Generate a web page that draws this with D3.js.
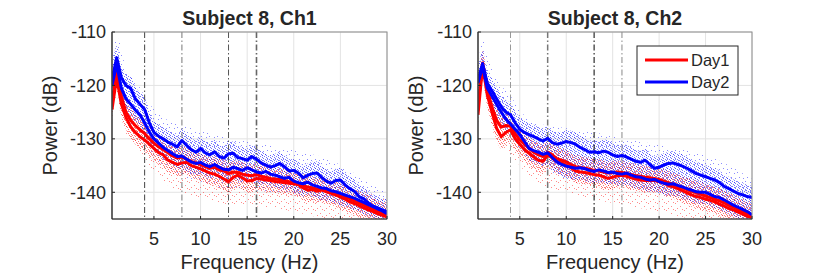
<!DOCTYPE html>
<html>
<head>
<meta charset="utf-8">
<script src="https://cdn.jsdelivr.net/npm/d3@7"></script>
<style>
  body { margin: 0; background: #fff; }
  text { font-family: "Liberation Sans", Arial, sans-serif; fill: #262626; }
</style>
</head>
<body>
<svg id="chart" width="830" height="277"></svg>
<script>
// frequency grid of the thick traces (Hz)
const freqs = d3.range(0.5, 30.001, 0.5);

// Ch1 traces (dB), one value per entry of freqs
const ch1Day1a = [-124.5,-118.5,-123.5,-126,-127.7,-128.8,-129.6,-130.2,-131,-131.8,-132.6,-133,-134,-134.4,-134.8,-134.5,-134.4,-135,-135.3,-135.6,
  -136,-136.4,-136.6,-137,-137.5,-138,-137.2,-136.8,-137.3,-137.9,-137.8,-137.4,-137.5,-137.7,-137.8,-138,-138.1,-138.2,-138.3,-138.4,
  -138.6,-139.2,-139.6,-139.5,-139.8,-139.6,-139.9,-140.2,-140.5,-140.9,-141.3,-141.8,-142.1,-142.5,-142.9,-143.3,-143.6,-144,-144.3,-144.6];
const ch1Day1b = [-123,-117.5,-122,-125,-126.5,-127.5,-128.3,-129,-130,-130.8,-131.5,-132,-132.6,-133.2,-133.6,-133.4,-133.8,-134.2,-134.5,-134.8,
  -135.2,-135.5,-135.3,-135.8,-136,-136.5,-136.2,-136.3,-136.6,-136.8,-136.9,-136.7,-137,-137.2,-137.4,-137.5,-137.6,-137.8,-138,-138.2,
  -138.5,-138.8,-139,-139.2,-139.4,-139.5,-139.7,-140,-140.2,-140.5,-140.9,-141.2,-141.6,-142,-142.4,-142.8,-143.2,-143.6,-144,-144.3];
const ch1Day2a = [-119,-114.8,-118.5,-120,-120.5,-122.5,-123.5,-124.5,-127,-128.8,-129.5,-130,-130.6,-131,-131.5,-130.3,-131.2,-132,-132.5,-131.8,
  -132.6,-133,-132.4,-133.3,-133.6,-132.8,-132.7,-133.5,-133.7,-134,-133.3,-133.8,-134.5,-134.9,-135.3,-135,-134.6,-135.2,-136,-135.9,
  -136.4,-137.3,-136.8,-136.5,-136.4,-137.2,-137.9,-138.3,-137.8,-137.7,-138.6,-139.3,-139.8,-140.8,-141.2,-142,-142.6,-142.9,-143.3,-143.6];
const ch1Day2b = [-120,-116,-120.5,-122.5,-123.5,-124.6,-125.5,-127,-128.7,-130,-130.8,-131.6,-132.2,-132.8,-133.3,-133.2,-133.8,-134.3,-134.6,-134.4,
  -134.9,-135.2,-134.8,-135.3,-135.7,-135.8,-135.3,-135.6,-135.9,-135.4,-135.8,-136.2,-136.4,-136.1,-136.6,-136.8,-137.1,-137.4,-137.2,-137.9,
  -138.2,-138.4,-138.1,-138.6,-138.9,-139.2,-139.3,-139.7,-139.9,-140.2,-140.5,-140.8,-141.1,-141.5,-141.9,-142.3,-142.7,-143.1,-143.5,-144];

// Ch2 traces (dB)
const ch2Day1a = [-125.5,-116.3,-121.8,-125,-128,-129.6,-128.8,-128.3,-130,-131,-132,-132.7,-133.4,-134,-134.2,-133,-133.6,-134.3,-134.5,-134.9,
  -135.4,-136,-136.2,-136.3,-136.5,-136.7,-136.8,-137.1,-137.4,-137.2,-136.9,-136.8,-137,-137.3,-137.5,-137.7,-137.8,-137.8,-137.8,-138,
  -138.3,-138.7,-139,-139.3,-139.7,-140.1,-140.5,-140.8,-141,-141.3,-141.5,-141.8,-142.2,-142.6,-143,-143.3,-143.7,-144.1,-144.5,-144.8];
const ch2Day1b = [-124,-115.8,-120.8,-124,-126.5,-127.8,-127.5,-127.6,-129,-130.2,-131,-131.8,-132.5,-133,-133.3,-132.5,-133,-133.7,-134,-134.3,
  -134.8,-135.2,-135.3,-135.5,-135.7,-135.9,-136,-136.2,-136.4,-136.3,-136.2,-136.3,-136.5,-136.7,-136.9,-137,-137.2,-137.3,-137.4,-137.6,
  -137.9,-138.2,-138.5,-138.8,-139.1,-139.5,-139.8,-140.1,-140.4,-140.7,-141,-141.3,-141.6,-142,-142.4,-142.8,-143.2,-143.6,-144,-144.4];
const ch2Day2a = [-119,-115.9,-119.6,-121,-122.5,-124,-125,-125.5,-127,-128.2,-128.8,-129.2,-129.6,-130,-130.4,-129.9,-130.7,-131,-130.8,-130.5,
  -130.7,-131,-131.6,-132,-132.5,-132.4,-132.6,-132.3,-132.5,-133,-133.3,-133.1,-133.4,-133.8,-134.2,-134.4,-134,-134.8,-135.5,-135.3,
  -134.9,-134.6,-134.5,-134.8,-135.1,-135.5,-136,-136.5,-136.8,-137.1,-137.4,-137.7,-138.2,-138.9,-139.3,-139.8,-140.2,-140.5,-140.8,-141];
const ch2Day2b = [-119.5,-116.5,-120.5,-122,-123.5,-125,-126.3,-127.2,-128.2,-129.2,-130.5,-131.8,-132.2,-132.5,-132.9,-132.6,-133.5,-134.3,-134.8,-135.1,
  -135.3,-135.5,-135.4,-135.6,-135.9,-136.1,-135.8,-136,-136.3,-136.2,-136.5,-136.6,-136.4,-136.8,-137.1,-137.2,-137.5,-137.7,-137.6,-138,
  -138.3,-138.5,-138.4,-138.7,-139,-139.3,-139.6,-139.9,-140,-140,-140.4,-140.8,-141,-141.4,-141.9,-142.4,-142.8,-143.2,-143.6,-144.2];

// spread of the single-epoch spectra (dB): upper / lower edge of the point clouds
const envFreqs = [0.5, 1, 1.5, 2, 3, 4, 5, 6, 8, 10, 12, 15, 18, 21, 24, 27, 30];
const ch1Day1Hi = [-121,-116,-120,-122,-125,-128,-130,-131,-132,-133,-134,-135,-135.5,-136.5,-137.5,-139.5,-141.5];
const ch1Day1Lo = [-127,-122,-126,-129,-131,-134,-136,-138,-140,-141,-142,-142.5,-143,-144,-145,-145,-145];
const ch1Day2Hi = [-116,-111,-113,-117,-119,-122,-124.5,-126,-127.5,-128.5,-129.5,-130.5,-131.5,-132.5,-134,-137,-140];
const ch1Day2Lo = [-122,-119,-123,-126,-128,-131,-133,-135,-137,-138,-139,-139.5,-140,-141,-142,-143.5,-145];
const ch2Day1Hi = [-123,-115.5,-118,-121,-124.5,-126.5,-128.5,-130,-131,-132.5,-133.5,-134.5,-135.5,-136.5,-137.5,-139.5,-141.5];
const ch2Day1Lo = [-128,-120,-124,-128,-131,-133,-135,-137,-139,-140,-141,-142,-143,-144,-145,-145,-145];
const ch2Day2Hi = [-117,-111.5,-114,-117,-120,-122,-124.5,-126.5,-127.5,-128,-128.5,-129.5,-130.5,-131.5,-132.5,-134.5,-137.5];
const ch2Day2Lo = [-121,-119,-122,-124.5,-127.5,-130,-132,-134,-136,-137.5,-138,-138.5,-139,-140,-141.5,-143,-145];

// EEG band edges (Hz)
const bandEdges = [4, 8, 13, 16];

const xTicks = [5, 10, 15, 20, 25, 30];
const yTicks = [-140, -130, -120, -110];
const seriesNames = ["Day1", "Day2"];

const panels = [
  { title: "Subject 8, Ch1", x0: 112, x1: 387, day1: [ch1Day1b, ch1Day1a], day2: [ch1Day2b, ch1Day2a],
    env1: [ch1Day1Hi, ch1Day1Lo], env2: [ch1Day2Hi, ch1Day2Lo],
    edgeStyle: [["#444", 1], ["#777", 1], ["#555", 1], ["#666", 1.6]], legend: false },
  { title: "Subject 8, Ch2", x0: 478, x1: 752, day1: [ch2Day1b, ch2Day1a], day2: [ch2Day2b, ch2Day2a],
    env1: [ch2Day1Hi, ch2Day1Lo], env2: [ch2Day2Hi, ch2Day2Lo],
    edgeStyle: [["#999", 1], ["#777", 1.5], ["#000", 1], ["#888", 1]], legend: true }
];

const plotTop = 32, plotBottom = 219;
const colors = { Day1: "#ff0000", Day2: "#0000ff" };

const svg = d3.select("#chart");
const defs = svg.append("defs");

// speckle patterns imitating the faint per-epoch dots
function makePattern(id, color, w, h, dots, opacity) {
  const p = defs.append("pattern").attr("id", id)
    .attr("patternUnits", "userSpaceOnUse").attr("width", w).attr("height", h);
  dots.forEach(d => p.append("rect").attr("x", d[0]).attr("y", d[1])
    .attr("width", 1).attr("height", 1).attr("fill", color).attr("opacity", opacity));
}
makePattern("sparseRed", colors.Day1, 9, 7, [[0,0],[5,3],[2,5],[7,6]], 0.45);
makePattern("sparseBlue", colors.Day2, 8, 9, [[1,1],[6,2],[3,6],[7,7]], 0.45);
makePattern("denseRed", colors.Day1, 5, 4, [[0,0],[3,1],[1,2],[4,3],[2,3]], 0.55);
makePattern("denseBlue", colors.Day2, 4, 5, [[0,1],[2,0],[3,3],[1,4],[2,2]], 0.55);

panels.forEach((p, pi) => {
  const x = d3.scaleLinear().domain([0.5, 30]).range([p.x0, p.x1]);
  const y = d3.scaleLinear().domain([-145, -110]).range([plotBottom, plotTop]);
  const g = svg.append("g");

  defs.append("clipPath").attr("id", "clip" + pi).append("rect")
    .attr("x", p.x0).attr("y", plotTop).attr("width", p.x1 - p.x0).attr("height", plotBottom - plotTop);

  // grid
  g.selectAll(".gx").data(xTicks).enter().append("line")
    .attr("x1", d => x(d)).attr("x2", d => x(d)).attr("y1", plotTop).attr("y2", plotBottom)
    .attr("stroke", "#e3e3e3").attr("stroke-width", 1);
  g.selectAll(".gy").data(yTicks).enter().append("line")
    .attr("x1", p.x0).attr("x2", p.x1).attr("y1", d => y(d)).attr("y2", d => y(d))
    .attr("stroke", "#e3e3e3").attr("stroke-width", 1);

  const plot = g.append("g").attr("clip-path", `url(#clip${pi})`);

  const band = d3.area().x(d => x(d.f)).y0(d => y(d.lo)).y1(d => y(d.hi)).curve(d3.curveMonotoneX);
  const envData = env => envFreqs.map((f, i) => ({ f, hi: env[0][i], lo: env[1][i] }));
  const coreData = lines => freqs.map((f, i) => ({
    f, hi: d3.max(lines, l => l[i]) + 2.2, lo: d3.min(lines, l => l[i]) - 2.2 }));

  plot.append("path").datum(envData(p.env1)).attr("d", band).attr("fill", "url(#sparseRed)");
  plot.append("path").datum(envData(p.env2)).attr("d", band).attr("fill", "url(#sparseBlue)");
  plot.append("path").datum(coreData(p.day1)).attr("d", band).attr("fill", "url(#denseRed)");
  plot.append("path").datum(coreData(p.day2)).attr("d", band).attr("fill", "url(#denseBlue)");

  // band edges
  bandEdges.forEach((f, i) => {
    plot.append("line").attr("x1", x(f)).attr("x2", x(f)).attr("y1", plotTop).attr("y2", plotBottom)
      .attr("stroke", p.edgeStyle[i][0]).attr("stroke-width", p.edgeStyle[i][1])
      .attr("stroke-dasharray", "6,2.5,1.5,2.5");
  });

  const line = d3.line().x((d, i) => x(freqs[i])).y(d => y(d));
  p.day1.forEach(s => plot.append("path").datum(s).attr("d", line)
    .attr("fill", "none").attr("stroke", colors.Day1).attr("stroke-width", 3).attr("stroke-linejoin", "round"));
  p.day2.forEach(s => plot.append("path").datum(s).attr("d", line)
    .attr("fill", "none").attr("stroke", colors.Day2).attr("stroke-width", 3).attr("stroke-linejoin", "round"));

  // box
  g.append("rect").attr("x", p.x0).attr("y", plotTop).attr("width", p.x1 - p.x0).attr("height", plotBottom - plotTop)
    .attr("fill", "none").attr("stroke", "#8c8c8c").attr("stroke-width", 1);
  g.append("line").attr("x1", p.x0).attr("x2", p.x0).attr("y1", plotTop).attr("y2", plotBottom)
    .attr("stroke", "#262626").attr("stroke-width", 1.2);
  g.append("line").attr("x1", p.x0).attr("x2", p.x1).attr("y1", plotBottom).attr("y2", plotBottom)
    .attr("stroke", "#262626").attr("stroke-width", 1.2);

  // ticks and labels
  g.selectAll(".xt").data(xTicks).enter().append("line")
    .attr("x1", d => x(d)).attr("x2", d => x(d)).attr("y1", plotBottom).attr("y2", plotBottom - 3)
    .attr("stroke", "#262626");
  g.selectAll(".yt").data(yTicks).enter().append("line")
    .attr("x1", p.x0).attr("x2", p.x0 + 3).attr("y1", d => y(d)).attr("y2", d => y(d))
    .attr("stroke", "#262626");
  g.selectAll(".xl").data(xTicks).enter().append("text")
    .attr("x", d => x(d)).attr("y", 244.5).attr("text-anchor", "middle")
    .attr("font-size", 18).text(d => d);
  g.selectAll(".yl").data(yTicks).enter().append("text")
    .attr("x", p.x0 - 6).attr("y", d => y(d)).attr("dy", "0.36em").attr("text-anchor", "end")
    .attr("font-size", 18).text(d => d);

  g.append("text").attr("x", (p.x0 + p.x1) / 2).attr("y", 269).attr("text-anchor", "middle")
    .attr("font-size", 20).text("Frequency (Hz)");
  g.append("text").attr("transform", `translate(${p.x0 - 55},${(plotTop + plotBottom) / 2}) rotate(-90)`)
    .attr("text-anchor", "middle").attr("font-size", 20).text("Power (dB)");
  g.append("text").attr("x", (p.x0 + p.x1) / 2).attr("y", 24.5).attr("text-anchor", "middle")
    .attr("font-size", 19.5).attr("font-weight", "bold").attr("fill", "#000").text(p.title);

  if (p.legend) {
    const lg = g.append("g").attr("transform", "translate(637,46)");
    lg.append("rect").attr("width", 101).attr("height", 49).attr("fill", "#fff")
      .attr("stroke", "#262626").attr("stroke-width", 1);
    seriesNames.forEach((n, i) => {
      lg.append("line").attr("x1", 8).attr("x2", 51).attr("y1", 14 + i * 22).attr("y2", 14 + i * 22)
        .attr("stroke", colors[n]).attr("stroke-width", 3);
      lg.append("text").attr("x", 54).attr("y", 14 + i * 22).attr("dy", "0.36em")
        .attr("font-size", 16.5).text(n);
    });
  }
});
</script>
</body>
</html>
